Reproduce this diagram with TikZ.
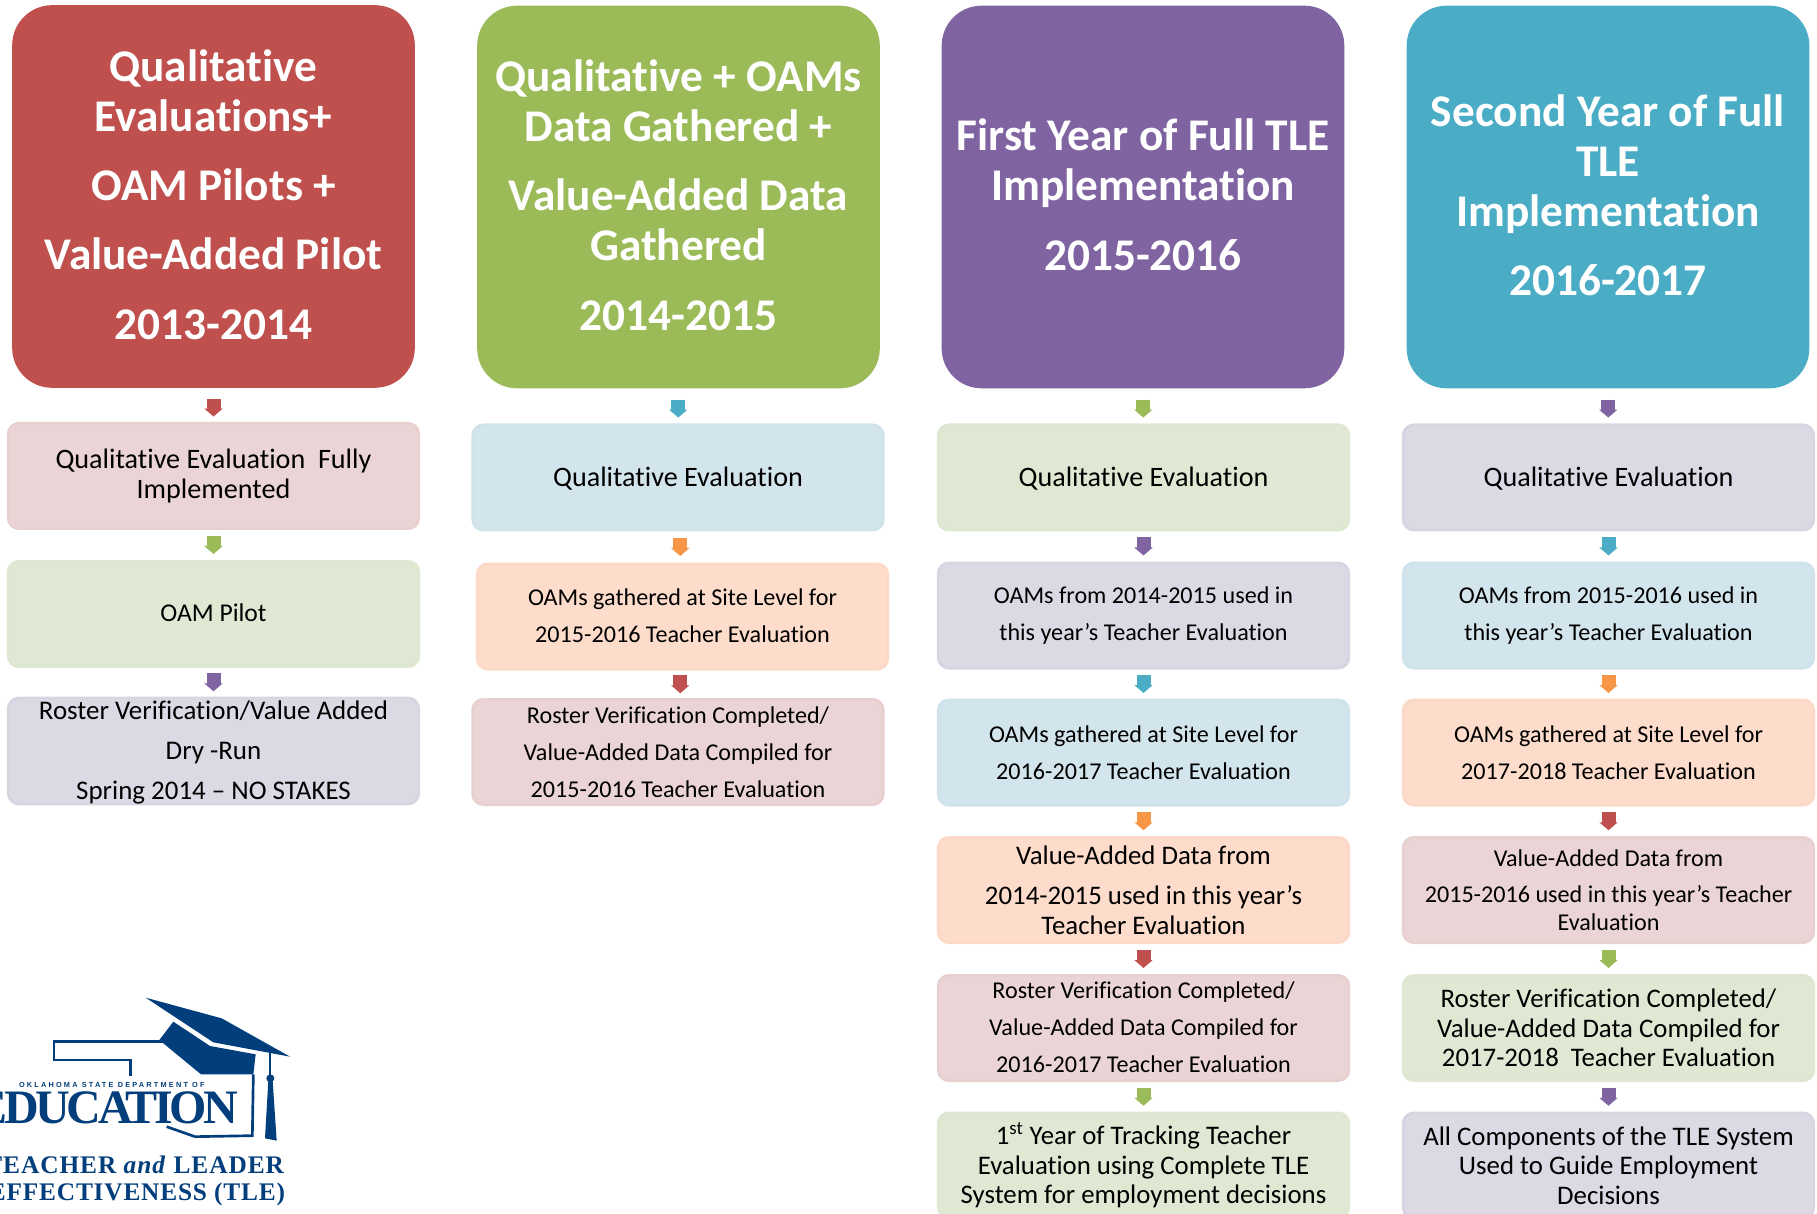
\documentclass[tikz,border=0pt]{standalone}
\usepackage{fontspec}
\setmainfont{Carlito}[Ligatures=NoCommon]
\newfontfamily\logoserif{Liberation Serif}
\newfontfamily\logosans{Liberation Sans}
\usetikzlibrary{arrows.meta,calc}
\definecolor{cred}{HTML}{C0504D}
\definecolor{cgreen}{HTML}{9BBB59}
\definecolor{cpurple}{HTML}{8064A2}
\definecolor{cteal}{HTML}{4BACC6}
\definecolor{corange}{HTML}{F79646}
\definecolor{lpink}{HTML}{EAD4D5}
\definecolor{lgreen}{HTML}{E0E8D3}
\definecolor{lpurple}{HTML}{DCD8E4}
\definecolor{lblue}{HTML}{D3E5EC}
\definecolor{lorange}{HTML}{FDDCCB}
\definecolor{bpink}{HTML}{E8D0D0}
\definecolor{bgreen}{HTML}{DEE7CF}
\definecolor{bpurple}{HTML}{D9D4E2}
\definecolor{bblue}{HTML}{D0E3EB}
\definecolor{borange}{HTML}{FCD9C6}
\definecolor{logoblue}{HTML}{033E7C}
\tikzset{
  headbox/.style={rectangle,rounded corners=30pt,minimum width=302pt,minimum height=287pt,
    text width=295pt,align=flush center,text=white,inner sep=0pt,outer sep=0pt,
    font=\fontsize{34pt}{37.5pt}\selectfont\bfseries},
  stepbox/.style={rectangle,rounded corners=8pt,minimum width=308pt,minimum height=79pt,
    text width=298pt,align=flush center,text=black,inner sep=0pt,outer sep=0pt,line width=2pt},
  pink/.style={stepbox,fill=lpink,draw=bpink},
  lgr/.style={stepbox,fill=lgreen,draw=bgreen},
  lpu/.style={stepbox,fill=lpurple,draw=bpurple},
  lbl/.style={stepbox,fill=lblue,draw=bblue},
  lor/.style={stepbox,fill=lorange,draw=borange},
  fa/.style={font=\fontsize{20.1pt}{22pt}\selectfont},
  fq/.style={font=\fontsize{21.1pt}{22.5pt}\selectfont},
  fo/.style={font=\fontsize{19.2pt}{22pt}\selectfont},
  fb/.style={font=\fontsize{18.1pt}{27.6pt}\selectfont},
  fc/.style={font=\fontsize{20.2pt}{30pt}\selectfont},
  fd/.style={font=\fontsize{18.1pt}{20.5pt}\selectfont},
  blockarrow/.style={line width=10.5pt,-{Triangle[length=6pt,width=13.5pt]}},
  logofill/.style={fill=logoblue,draw=none},
  logoline/.style={draw=logoblue,line width=2pt,line join=miter},
  logotext/.style={text=logoblue,inner sep=0pt,outer sep=0pt}
}
\newcommand{\conn}[3]{\draw[blockarrow,#3] ($(#1.south)!.5!(#2.north)+(0,-9)$) -- ($(#1.south)!.5!(#2.north)+(0,9)$);}
\newcommand{\connh}[3]{\draw[blockarrow,#3] ($(#1.south)!.5!(#2.north)+(0,-7)$) -- ($(#1.south)!.5!(#2.north)+(0,11)$);}
\newcommand{\dep}[1]{\rule[-#1]{0pt}{#1}}
\begin{document}
\begin{tikzpicture}[x=.75pt,y=-.75pt]
\useasboundingbox (0,0) rectangle (1817,1213.5);
\clip (0,0) rectangle (1817,1213.5);
% headers
\node[headbox,fill=cred] (h1) at (213.5,196.5) {Qualitative\\Evaluations+\\[14.5pt]OAM Pilots +\\[14.5pt]Value-Added Pilot\\[14.5pt]2013-2014\dep{3.5pt}};
\node[headbox,fill=cgreen] (h2) at (678.5,197) {Qualitative + OAMs\\Data Gathered +\\[14.5pt]Value-Added Data\\Gathered\\[14.5pt]2014-2015\dep{3pt}};
\node[headbox,fill=cpurple] (h3) at (1143,197) {First Year of Full TLE\\Implementation\\[14.5pt]2015-2016\dep{3.5pt}};
\node[headbox,fill=cteal] (h4) at (1608,197) {Second Year of Full\\TLE\\Implementation\\[14.5pt]2016-2017\dep{3pt}};
% column 1
\node[pink,fq] (a1) at (213.5,476) {Qualitative Evaluation\ \ Fully\\Implemented};
\node[lgr,fo] (a2) at (213.5,614) {OAM Pilot\dep{1.5pt}};
\node[lpu,fc] (a3) at (213.5,751) {\rule{0pt}{16pt}Roster Verification/Value Added\\Dry -Run\\Spring 2014 – NO STAKES};
% column 2
\node[lbl,fq] (b1) at (678,477.5) {\rule{0pt}{17pt}Qualitative Evaluation};
\node[lor,fb] (b2) at (682.5,616.5) {OAMs gathered at Site Level for\\2015-2016 Teacher Evaluation\dep{1.5pt}};
\node[pink,fb] (b3) at (678,752) {Roster Verification Completed/\\Value-Added Data Compiled for\\2015-2016 Teacher Evaluation};
% column 3
\node[lgr,fq] (c1) at (1143.5,477.5) {\rule{0pt}{17pt}Qualitative Evaluation};
\node[lpu,fb] (c2) at (1143.5,615.5) {OAMs from 2014-2015 used in\\this year’s Teacher Evaluation};
\node[lbl,fb] (c3) at (1143.5,752.5) {OAMs gathered at Site Level for\\2016-2017 Teacher Evaluation};
\node[lor,fa] (c4) at (1143.5,890) {Value-Added Data from\\[8.5pt]2014-2015 used in this year’s\\Teacher Evaluation};
\node[pink,fb] (c5) at (1143.5,1028) {Roster Verification Completed/\\Value-Added Data Compiled for\\2016-2017 Teacher Evaluation\dep{1.5pt}};
\node[lgr,fa] (c6) at (1143.5,1165.5) {1\textsuperscript{st} Year of Tracking Teacher\\Evaluation using Complete TLE\\System for employment decisions};
% column 4
\node[lpu,fq] (d1) at (1608.5,477.5) {\rule{0pt}{17pt}Qualitative Evaluation};
\node[lbl,fb] (d2) at (1608.5,615.5) {OAMs from 2015-2016 used in\\this year’s Teacher Evaluation};
\node[lor,fb] (d3) at (1608.5,752.5) {OAMs gathered at Site Level for\\2017-2018 Teacher Evaluation};
\node[pink,fd] (d4) at (1608.5,890) {Value-Added Data from\\[7pt]2015-2016 used in this year’s Teacher\\Evaluation};
\node[lgr,fa] (d5) at (1608.5,1028) {Roster Verification Completed/\\Value-Added Data Compiled for\\2017-2018\ \ Teacher Evaluation};
\node[lpu,fa] (d6) at (1608.5,1165.5) {All Components of the TLE System\\Used to Guide Employment\\Decisions};
% connectors
\connh{h1}{a1}{cred}\conn{a1}{a2}{cgreen}\conn{a2}{a3}{cpurple}
\connh{h2}{b1}{cteal}\conn{b1}{b2}{corange}\conn{b2}{b3}{cred}
\connh{h3}{c1}{cgreen}\conn{c1}{c2}{cpurple}\conn{c2}{c3}{cteal}\conn{c3}{c4}{corange}\conn{c4}{c5}{cred}\conn{c5}{c6}{cgreen}
\connh{h4}{d1}{cpurple}\conn{d1}{d2}{cteal}\conn{d2}{d3}{corange}\conn{d3}{d4}{cred}\conn{d4}{d5}{cgreen}\conn{d5}{d6}{cpurple}
% logo
\begin{scope}[shift={(0,960)},x=.25pt,y=-.25pt]
\fill[logofill] (437,113) -- (665,175) -- (870,290) -- (640,247) -- cycle;
\fill[logofill] (520,185) -- (630,258) -- (767,283) -- (760,343) -- (603,343) -- (478,240) -- cycle;
\draw[logoline] (490,245) -- (162,245) -- (162,300) -- (391,300) -- (391,347);
\draw[logoline] (760,343) -- (757,527) -- (585,530) -- (500,500);
\draw[logoline,line width=1.5pt] (811,280) -- (811,350);
\fill[logofill] (811,355) circle (12);
\fill[logofill] (805,362) -- (818,362) -- (830,542) -- (795,535) -- cycle;
\node[logotext,anchor=base west] (t1) at (57,381) {\logosans\bfseries\addfontfeature{LetterSpace=30}\fontsize{5.5pt}{6pt}\selectfont OKLAHOMA STATE DEPARTMENT OF};
\node[logotext,anchor=base east] (t2) at (715,489) {\logoserif\bfseries\addfontfeature{LetterSpace=-7}\fontsize{36pt}{36pt}\selectfont EDUCATION};
\node[logotext,anchor=base east] (t3) at (852,640) {\logoserif\bfseries\addfontfeature{LetterSpace=3.8}\fontsize{19pt}{20pt}\selectfont TEACHER \textit{and} LEADER};
\node[logotext,anchor=base east] (t4) at (855,722) {\logoserif\bfseries\addfontfeature{LetterSpace=3.2}\fontsize{19pt}{20pt}\selectfont EFFECTIVENESS (TLE)};
\end{scope}
\end{tikzpicture}
\end{document}
